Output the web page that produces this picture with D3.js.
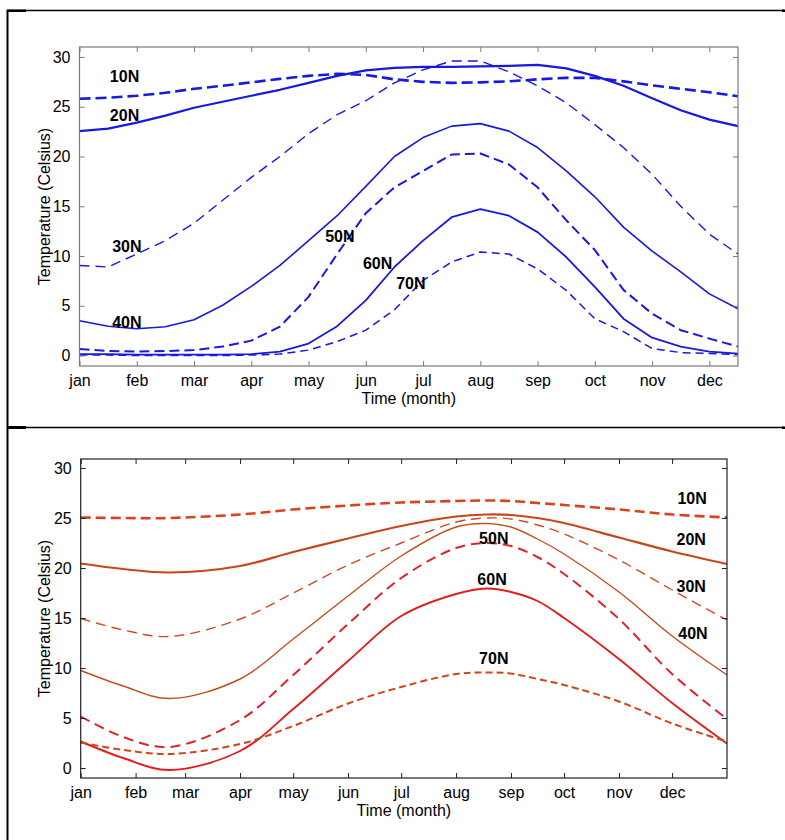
<!DOCTYPE html>
<html>
<head>
<meta charset="utf-8">
<script src="https://cdn.jsdelivr.net/npm/d3@7/dist/d3.min.js"></script>
<style>
  html, body { margin: 0; padding: 0; background: #fff; }
  svg { display: block; font-family: "Liberation Sans", Arial, Helvetica, sans-serif; }
</style>
</head>
<body>
<svg id="chart" width="785" height="840"></svg>
<script>
// ---------------- DATA ----------------
const monthLabels = ["jan","feb","mar","apr","may","jun","jul","aug","sep","oct","nov","dec"];
const yTicks = [0, 5, 10, 15, 20, 25, 30];

// Top panel (blue): samples every half month (month index)
const topSteps = [0,0.5,1,1.5,2,2.5,3,3.5,4,4.5,5,5.5,6,6.5,7,7.5,8,8.5,9,9.5,10,10.5,11,11.5];
const top10N = [25.8,25.9,26.1,26.4,26.8,27.1,27.45,27.8,28.1,28.3,28.2,27.75,27.5,27.4,27.45,27.55,27.75,27.9,27.9,27.55,27.15,26.8,26.45,26.05];
const top20N = [22.55,22.8,23.4,24.1,24.9,25.5,26.1,26.7,27.4,28.1,28.65,28.9,29.0,29.0,29.05,29.1,29.2,28.85,28.1,27.1,25.85,24.65,23.7,23.05];
const top30N = [9.05,8.9,10.2,11.55,13.3,15.6,17.9,20.0,22.3,24.2,25.6,27.4,28.7,29.6,29.6,28.5,27.1,25.4,23.2,20.9,18.2,15.0,12.2,10.2];
const top40N = [3.5,2.95,2.7,2.9,3.6,5.05,6.95,9.05,11.55,14.05,17.0,20.0,21.9,23.05,23.3,22.55,20.9,18.55,15.95,12.9,10.5,8.4,6.2,4.7];
const top50N = [0.65,0.45,0.4,0.45,0.55,0.9,1.5,2.9,5.9,10.2,14.3,16.9,18.55,20.2,20.3,19.2,16.9,13.6,10.6,6.6,4.2,2.55,1.7,0.9];
const top60N = [0.15,0.15,0.1,0.1,0.1,0.1,0.15,0.4,1.2,2.95,5.55,8.9,11.55,13.9,14.7,14.05,12.4,9.9,6.9,3.7,1.8,0.9,0.4,0.2];
const top70N = [0.05,0.05,0.0,0.0,0.0,0.0,0.05,0.15,0.55,1.4,2.55,4.6,7.55,9.4,10.4,10.2,8.7,6.55,3.7,2.4,0.7,0.3,0.2,0.1];

// Bottom panel (red): samples by day of year
const monthStartDays = [0,31,59,90,120,151,181,212,243,273,304,334];
const botDays = [0,24,50,90,120,151,181,212,229,243,258,273,304,334,365];
const bot10N = [25.05,25.0,25.0,25.35,25.85,26.25,26.55,26.7,26.75,26.7,26.5,26.3,25.85,25.35,25.05];
const bot20N = [20.45,19.9,19.55,20.2,21.6,22.95,24.2,25.15,25.35,25.3,25.0,24.5,23.05,21.65,20.4];
const bot30N = [14.95,13.8,13.15,14.9,17.5,20.3,22.5,24.6,25.0,24.9,24.3,23.4,20.8,17.8,14.8];
const bot40N = [9.75,8.2,6.95,8.9,12.9,17.2,21.2,24.1,24.45,24.1,22.9,21.4,17.6,13.2,9.3];
const bot50N = [5.15,3.1,2.1,4.8,9.3,14.4,19.0,22.0,22.5,22.2,21.1,19.4,14.9,9.4,4.9];
const bot60N = [2.65,1.0,-0.2,1.7,5.9,10.7,15.2,17.4,17.95,17.6,16.7,15.0,10.9,6.5,2.45];
const bot70N = [2.55,1.8,1.4,2.4,4.2,6.45,8.1,9.4,9.55,9.45,8.9,8.3,6.65,4.45,2.65];

// Label anchors in data units
const topLabels = [["10N",0.53,27.44],["20N",0.53,23.52],["30N",0.57,10.4],["40N",0.57,2.76],["50N",4.29,11.4],["60N",4.95,8.74],["70N",5.53,6.68]];
const botLabels = [["10N",337,26.4],["20N",336.5,22.3],["30N",336.5,17.6],["40N",337.5,12.9],["50N",225,22.4],["60N",224,18.35],["70N",225,10.4]];

// ---------------- DRAW ----------------
const svg = d3.select("#chart");

// panel frame lines
const frame = svg.append("g").attr("stroke", "#000").attr("fill", "none");
frame.append("line").attr("x1", 7).attr("x2", 784).attr("y1", 10.5).attr("y2", 10.5).attr("stroke-width", 1.5);
frame.append("line").attr("x1", 7).attr("x2", 784).attr("y1", 427.5).attr("y2", 427.5).attr("stroke-width", 1.5);
frame.append("line").attr("x1", 7.5).attr("x2", 7.5).attr("y1", 10).attr("y2", 840).attr("stroke-width", 2);
svg.append("rect").attr("x", 7).attr("y", 9.5).attr("width", 19).attr("height", 2.5).attr("fill", "#000");
svg.append("rect").attr("x", 7).attr("y", 426).attr("width", 19).attr("height", 3).attr("fill", "#000");
svg.append("rect").attr("x", 782).attr("y", 9.5).attr("width", 3).attr("height", 2.5).attr("fill", "#000");
svg.append("rect").attr("x", 782).attr("y", 426.5).attr("width", 3).attr("height", 2.5).attr("fill", "#000");

function panel(cfg) {
  const g = svg.append("g");
  const x = d3.scaleLinear().domain(cfg.xDomain).range([cfg.left, cfg.right]);
  const y = d3.scaleLinear().domain(cfg.yDomain).range([cfg.bottom, cfg.top]);

  // series
  const line = d3.line().x(d => x(d[0])).y(d => y(d[1])).curve(cfg.curve);
  cfg.series.forEach(s => {
    g.append("path")
      .datum(cfg.xs.map((v, i) => [v, s.values[i]]))
      .attr("d", line)
      .attr("fill", "none")
      .attr("stroke", s.color)
      .attr("stroke-width", s.width)
      .attr("stroke-dasharray", s.dash || null)
      .attr("stroke-linejoin", "round");
  });

  // axes (MATLAB style box, ticks inside)
  const tl = 5;
  const bottomAxis = d3.axisBottom(x).tickValues(cfg.xTicks).tickFormat((d, i) => monthLabels[i]).tickSizeInner(-tl).tickSizeOuter(0).tickPadding(9);
  const topAxis = d3.axisTop(x).tickValues(cfg.xTicks).tickFormat("").tickSizeInner(-tl).tickSizeOuter(0);
  const leftAxis = d3.axisLeft(y).tickValues(yTicks).tickSizeInner(-tl).tickSizeOuter(0).tickPadding(9);
  const rightAxis = d3.axisRight(y).tickValues(yTicks).tickFormat("").tickSizeInner(-tl).tickSizeOuter(0);

  const axG = g.append("g");
  axG.append("g").attr("transform", `translate(0,${cfg.bottom})`).call(bottomAxis);
  axG.append("g").attr("transform", `translate(0,${cfg.top})`).call(topAxis);
  axG.append("g").attr("transform", `translate(${cfg.left},0)`).call(leftAxis);
  axG.append("g").attr("transform", `translate(${cfg.right},0)`).call(rightAxis);
  axG.selectAll(".domain").remove();
  axG.selectAll(".tick line").attr("stroke", cfg.axisColor).attr("stroke-width", 1);
  axG.selectAll(".tick text").attr("fill", "#000").attr("font-size", 16)
     .attr("font-family", "'Liberation Sans', Arial, sans-serif");
  g.append("rect")
    .attr("x", cfg.left).attr("y", cfg.top)
    .attr("width", cfg.right - cfg.left).attr("height", cfg.bottom - cfg.top)
    .attr("fill", "none").attr("stroke", cfg.axisColor).attr("stroke-width", 1.2);

  // axis titles
  g.append("text")
    .attr("x", (cfg.left + cfg.right) / 2).attr("y", cfg.bottom + 38)
    .attr("text-anchor", "middle").attr("font-size", 16).attr("fill", "#000")
    .text("Time (month)");
  g.append("text")
    .attr("transform", `translate(49.5,${(cfg.top + cfg.bottom) / 2}) rotate(-90)`)
    .attr("text-anchor", "middle").attr("font-size", 16).attr("fill", "#000")
    .text("Temperature (Celsius)");

  // series labels
  cfg.labels.forEach(l => {
    g.append("text")
      .attr("x", x(l[1])).attr("y", y(l[2]))
      .attr("font-size", 16).attr("font-weight", "bold").attr("fill", "#000")
      .text(l[0]);
  });
}

const blue = "#1818e0";
panel({
  left: 79.5, right: 738, top: 47, bottom: 366,
  xDomain: [0, 11.5], yDomain: [-1.05, 31.0],
  xs: topSteps,
  xTicks: [0,1,2,3,4,5,6,7,8,9,10,11],
  axisColor: "#7a7a7a",
  curve: d3.curveLinear,
  series: [
    { values: top10N, color: blue, width: 2.6, dash: "11,5" },
    { values: top20N, color: blue, width: 2.2 },
    { values: top30N, color: blue, width: 1.4, dash: "10,6" },
    { values: top40N, color: blue, width: 1.6 },
    { values: top50N, color: blue, width: 2.0, dash: "10,5" },
    { values: top60N, color: blue, width: 1.8 },
    { values: top70N, color: blue, width: 1.5, dash: "8,5" }
  ],
  labels: topLabels
});

panel({
  left: 80.7, right: 727, top: 459, bottom: 778,
  xDomain: [0, 365], yDomain: [-1.0, 30.9],
  xs: botDays,
  xTicks: monthStartDays,
  axisColor: "#222",
  curve: d3.curveCatmullRom.alpha(0.5),
  series: [
    { values: bot10N, color: "#d8431a", width: 2.6, dash: "10,5" },
    { values: bot20N, color: "#c9461b", width: 2.2 },
    { values: bot30N, color: "#cf4a22", width: 1.4, dash: "10,6" },
    { values: bot40N, color: "#c24e1e", width: 1.4 },
    { values: bot50N, color: "#e2202c", width: 2.0, dash: "10,6" },
    { values: bot60N, color: "#e41c1c", width: 1.9 },
    { values: bot70N, color: "#d2441a", width: 2.0, dash: "7,4" }
  ],
  labels: botLabels
});
</script>
</body>
</html>
